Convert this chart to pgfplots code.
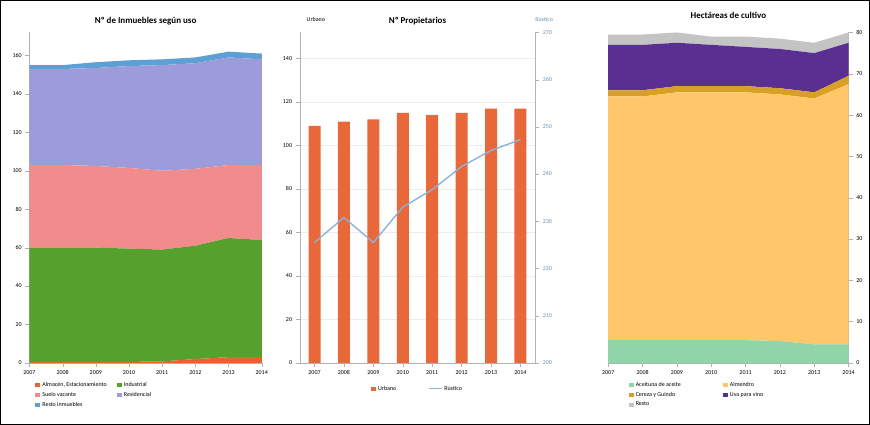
\documentclass[border=0pt]{standalone}
\usepackage{pgfplots}
\pgfplotsset{compat=1.18}
\usepackage{fontspec}
\setmainfont{Carlito}
\definecolor{c1}{HTML}{E8642A}
\definecolor{c2}{HTML}{56A12E}
\definecolor{c3}{HTML}{F28C8C}
\definecolor{c4}{HTML}{9C9CDA}
\definecolor{c5}{HTML}{5DA0D5}
\definecolor{bar}{HTML}{E8683A}
\definecolor{lin}{HTML}{8EB2D6}
\definecolor{h1}{HTML}{90D4A8}
\definecolor{h2}{HTML}{FFC76A}
\definecolor{h3}{HTML}{D8A024}
\definecolor{h4}{HTML}{5A2F92}
\definecolor{h5}{HTML}{C4C4C4}
\begin{document}
\begin{tikzpicture}
\pgfplotsset{every axis/.append style={scale only axis, anchor=south west,
 tick label style={font=\fontsize{6}{7}\selectfont}, /pgf/number format/assume math mode=true,
 /pgf/number format/1000 sep={}, tick align=outside, axis line style={gray!60}, tick style={gray!60},
 legend style={draw=none,font=\fontsize{6}{7}\selectfont, legend cell align=left, inner sep=1pt},
 title style={font=\bfseries\small}},
 area legend, legend image code/.code={\fill[#1] (0cm,-0.07cm) rectangle (0.18cm,0.07cm);}}
\draw[black, line width=0.8bp] (1bp,1bp) rectangle (869bp,424bp);
% Panel 1
\begin{axis}[at={(30bp,62bp)}, width=232bp, height=330bp, xmin=2007, xmax=2014, ymin=0, ymax=172,
 xtick={2007,...,2014}, ytick={0,20,...,160}, stack plots=y, axis y line*=left, axis x line*=bottom,
 title={Nº de Inmuebles según uso}, title style={at={(0.5,1.0)},yshift=-2bp},
 legend columns=2, legend style={at={(0.02,-0.05)}, anchor=north west, /tikz/every even column/.append style={column sep=8bp}}]
\addplot[fill=c1, draw=none] coordinates {(2007,0.5)(2008,0.5)(2009,0.5)(2010,0.5)(2011,0.8)(2012,2)(2013,3)(2014,3)} \closedcycle;
\addlegendentry{Almacén, Estacionamiento}
\addplot[draw=none, fill=c2] coordinates {(2007,59.5)(2008,59.5)(2009,59.5)(2010,59)(2011,58.2)(2012,59)(2013,62)(2014,61)} \closedcycle;
\addlegendentry{Industrial}
\addplot[fill=c3, draw=none] coordinates {(2007,43)(2008,43)(2009,42.5)(2010,42)(2011,41)(2012,40)(2013,38)(2014,39)} \closedcycle;
\addlegendentry{Suelo vacante}
\addplot[fill=c4, draw=none] coordinates {(2007,50)(2008,50)(2009,51)(2010,53)(2011,55)(2012,55)(2013,56)(2014,55)} \closedcycle;
\addlegendentry{Residencial}
\addplot[fill=c5, draw=none] coordinates {(2007,2)(2008,2)(2009,3)(2010,3)(2011,3)(2012,3)(2013,3)(2014,3)} \closedcycle;
\addlegendentry{Resto inmuebles}
\end{axis}
% Panel 2
\begin{axis}[at={(300bp,62bp)}, width=235bp, height=330bp, ymin=0, ymax=152, xmin=2006.5, xmax=2014.5,
 xtick={2007,...,2014}, ytick={0,20,...,140}, axis y line*=left, axis x line*=bottom,
 ymajorgrids, grid style={gray!15},
 title={Nº Propietarios}, title style={at={(0.5,1.0)},yshift=-2bp},
 legend columns=2, legend style={at={(0.5,-0.06)}, anchor=north, /tikz/every even column/.append style={column sep=30bp}}]
\addplot[ybar, bar width=12bp, fill=bar, draw=none] coordinates {(2007,109)(2008,111)(2009,112)(2010,115)(2011,114)(2012,115)(2013,117)(2014,117)};
\addlegendentry{Urbano}
\addlegendimage{legend image code/.code={\draw[line width=1.2bp, lin] (0cm,0cm) -- (0.45cm,0cm);}}
\addlegendentry{Rústico}
\end{axis}
\begin{axis}[at={(300bp,62bp)}, width=235bp, height=330bp, ymin=200, ymax=270, xmin=2006.5, xmax=2014.5,
 axis y line*=right, axis x line=none, ytick={200,210,...,270}, yticklabel style={color=lin!80!black}]
\addplot[line width=1.4bp, color=lin] coordinates {(2007,225.5)(2008,230.8)(2009,225.5)(2010,233)(2011,236.7)(2012,241.6)(2013,245)(2014,247.3)};
\end{axis}
\node[font=\fontsize{6}{7}\selectfont] at (316bp,405bp) {Urbano};
\node[font=\fontsize{6}{7}\selectfont, color=lin!80!black] at (544bp,405bp) {Rústico};
% Panel 3
\begin{axis}[at={(608bp,62bp)}, width=240bp, height=330bp, xmin=2007, xmax=2014, ymin=0, ymax=80,
 xtick={2007,...,2014}, ytick={0,10,...,80}, stack plots=y, axis y line*=right, axis x line*=bottom,
 title={Hectáreas de cultivo}, title style={at={(0.5,1.0)},yshift=4bp},
 legend columns=2, legend style={at={(0.08,-0.05)}, anchor=north west, /tikz/every even column/.append style={column sep=40bp}}]
\addplot[fill=h1, draw=none] coordinates {(2007,5.5)(2008,5.5)(2009,5.5)(2010,5.5)(2011,5.5)(2012,5.3)(2013,4.5)(2014,4.5)} \closedcycle;
\addlegendentry{Aceituna de aceite}
\addplot[fill=h2, draw=none] coordinates {(2007,59)(2008,59)(2009,60)(2010,60)(2011,60)(2012,59.7)(2013,59.5)(2014,63)} \closedcycle;
\addlegendentry{Almendro}
\addplot[fill=h3, draw=none] coordinates {(2007,1.5)(2008,1.5)(2009,1.5)(2010,1.5)(2011,1.5)(2012,1.5)(2013,1.5)(2014,2)} \closedcycle;
\addlegendentry{Cereza y Guindo}
\addplot[fill=h4, draw=none] coordinates {(2007,11)(2008,11)(2009,10.5)(2010,10)(2011,9.5)(2012,9.5)(2013,9.5)(2014,8)} \closedcycle;
\addlegendentry{Uva para vino}
\addplot[fill=h5, draw=none] coordinates {(2007,2.5)(2008,2.5)(2009,2.5)(2010,2)(2011,2.5)(2012,2.5)(2013,2.5)(2014,2.5)} \closedcycle;
\addlegendentry{Resto}
\end{axis}
\end{tikzpicture}
\end{document}
